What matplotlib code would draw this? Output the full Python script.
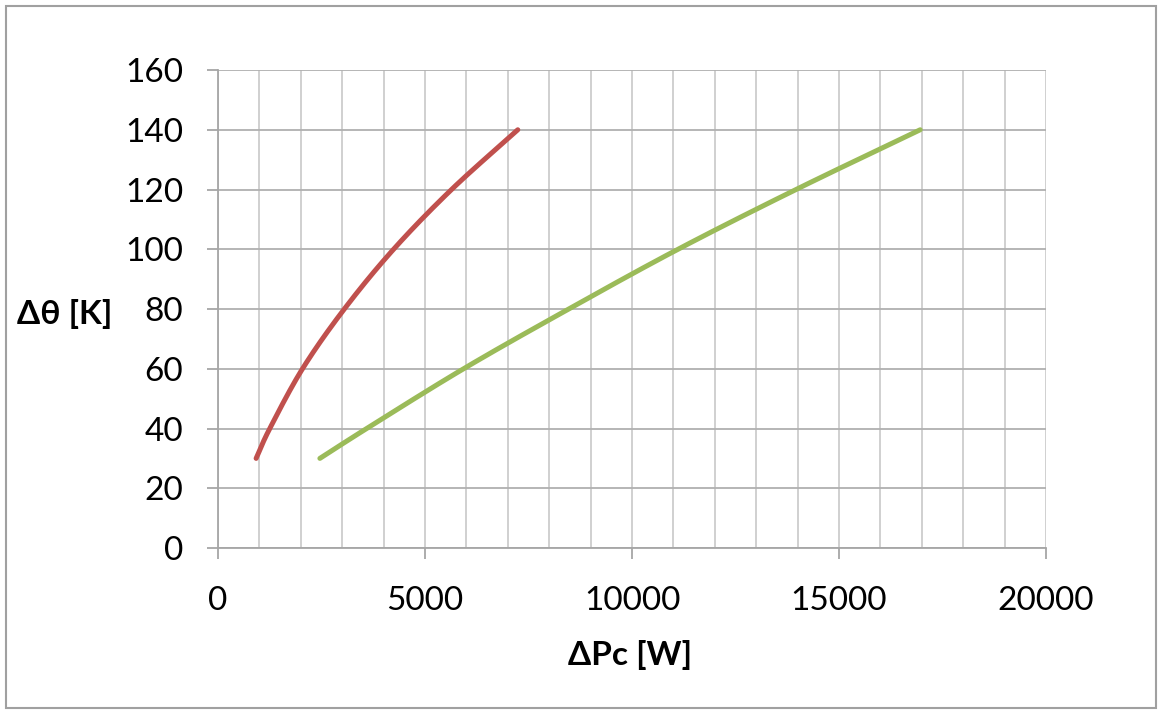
import numpy as np
import matplotlib
matplotlib.use("Agg")
import matplotlib.pyplot as plt
from matplotlib.patches import Rectangle

# Temperature rise vs. losses for two cooling cases
red_p = [920, 1250, 2040, 3050, 4240, 5640, 7240]
red_t = [30, 40, 60, 80, 100, 120, 140]
green_p = [2460, 3590, 5930, 8470, 11110, 13960, 16960]
green_t = [30, 40, 60, 80, 100, 120, 140]

x_ticks = [0, 5000, 10000, 15000, 20000]
y_ticks = [0, 20, 40, 60, 80, 100, 120, 140, 160]


def smooth(xs, ys, n=30):
    # Catmull-Rom spline through the points, like a spreadsheet "smoothed line"
    pts = np.column_stack([xs, ys]).astype(float)
    pts = np.vstack([2 * pts[0] - pts[1], pts, 2 * pts[-1] - pts[-2]])
    out = []
    t = np.linspace(0, 1, n)[:, None]
    for i in range(1, len(pts) - 2):
        p0, p1, p2, p3 = pts[i - 1], pts[i], pts[i + 1], pts[i + 2]
        seg = 0.5 * ((2 * p1) + (-p0 + p2) * t + (2 * p0 - 5 * p1 + 4 * p2 - p3) * t ** 2
                     + (-p0 + 3 * p1 - 3 * p2 + p3) * t ** 3)
        out.append(seg if i == 1 else seg[1:])
    out = np.vstack(out)
    return out[:, 0], out[:, 1]


plt.rcParams['font.family'] = ['Lato', 'DejaVu Sans']

fig = plt.figure(figsize=(11.61, 7.13), dpi=100)
ax = fig.add_axes([0.1878, 0.2314, 0.7132, 0.6704])

ax.set_xlim(0, 20000)
ax.set_ylim(0, 160)
ax.set_xticks(x_ticks)
ax.set_xticks(np.arange(0, 20001, 1000), minor=True)
ax.set_yticks(y_ticks)
ax.set_xticklabels([str(v) for v in x_ticks])
ax.set_yticklabels([str(v) for v in y_ticks])

ax.grid(True, axis='x', which='both', color='#c8c8c8', linewidth=1.2)
ax.grid(True, axis='y', which='major', color='#b0b0b0', linewidth=1.3)
ax.set_axisbelow(True)

for side in ['top', 'right']:
    ax.spines[side].set_visible(False)
ax.spines['left'].set_color('#a6a6a6')
ax.spines['bottom'].set_color('#a6a6a6')
ax.spines['left'].set_linewidth(1.3)
ax.spines['bottom'].set_linewidth(1.3)

ax.tick_params(axis='both', which='major', length=8, width=1.3, color='#a6a6a6',
               labelsize=24, labelcolor='black')
ax.tick_params(axis='y', pad=17)
ax.tick_params(axis='x', pad=19)
ax.tick_params(axis='x', which='minor', length=0)

rx, ry = smooth(red_p, red_t)
gx, gy = smooth(green_p, green_t)
ax.plot(rx, ry, color='#c0504d', linewidth=3.6, solid_capstyle='round')
ax.plot(gx, gy, color='#9bbb59', linewidth=3.6, solid_capstyle='round')

fig.text(65 / 1161, 1 - 314 / 713, 'Δθ [K]', fontsize=24, fontweight='bold',
         ha='center', va='center')
fig.text(630 / 1161, 1 - 655 / 713, 'ΔPc [W]', fontsize=24, fontweight='bold',
         ha='center', va='center')

# chart area border
fig.patches.append(Rectangle((5.5 / 1161, 5.5 / 713), 1 - 11 / 1161, 1 - 11 / 713,
                             transform=fig.transFigure, fill=False,
                             edgecolor='#a0a0a0', linewidth=1.5))

fig.savefig('out.png', dpi=100)
